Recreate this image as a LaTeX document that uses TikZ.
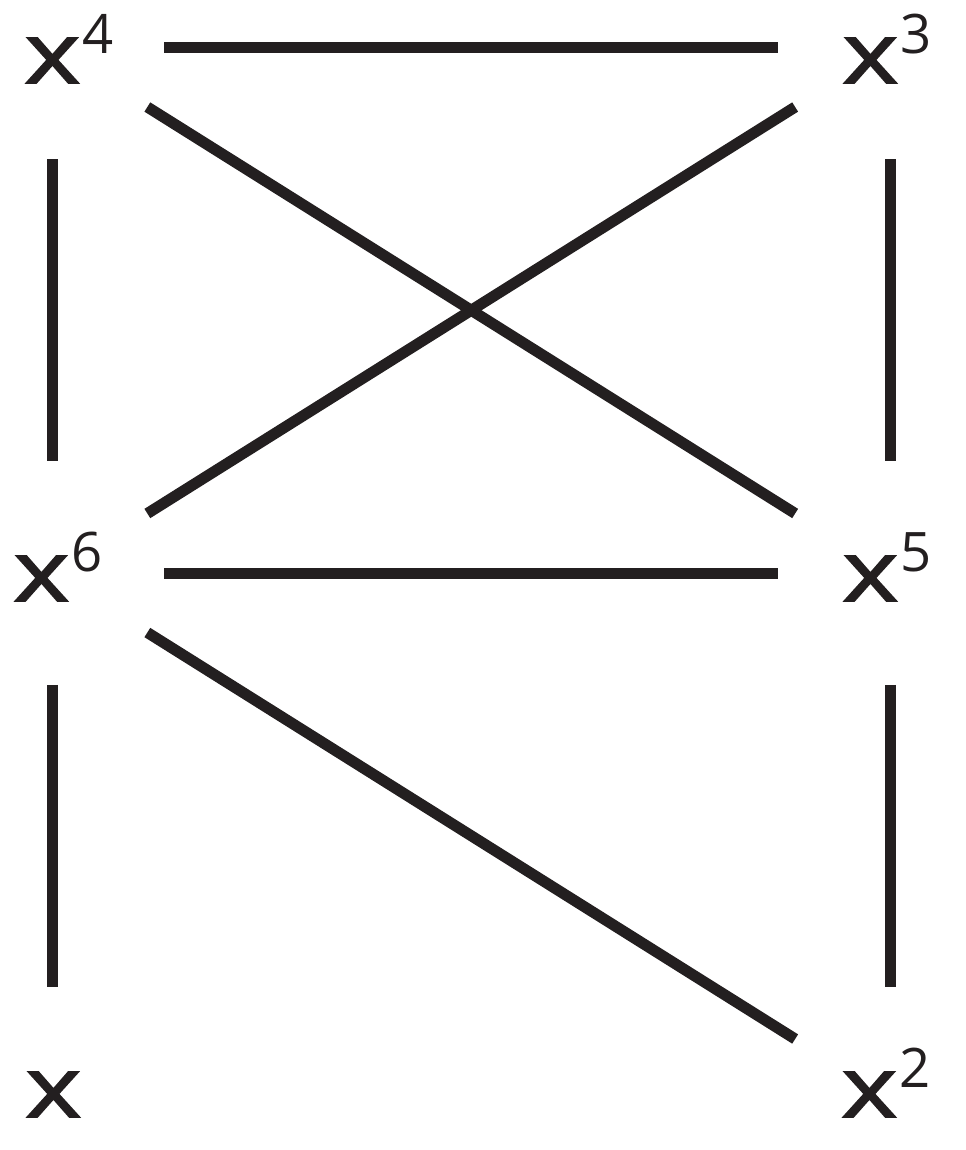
\documentclass[tikz,border=0pt]{standalone}
\usepackage{fontspec}
\setmainfont{Open Sans}
\newfontfamily\xfont[FakeStretch=1.27,FakeBold=2]{Open Sans}
\newcommand{\xpow}[1]{{\xfont x}\kern1pt\raisebox{0.6cm}{\fontsize{31}{32}\selectfont #1}}

\begin{document}
\begin{tikzpicture}[x=0.02cm,y=-0.02cm]
\definecolor{ink}{HTML}{231F20}
\tikzset{lbl/.style={inner sep=0pt,anchor=base west,text=ink,font=\fontsize{48}{50}\selectfont},
  edge/.style={draw=ink,line width=0.22cm,shorten <=2.24cm,shorten >=2.24cm}}
\useasboundingbox (0,0) rectangle (966,1150);
% grid points, one per power of x
\coordinate (v4) at (52.5,47.5);
\coordinate (v3) at (890,47.5);
\coordinate (v6) at (52.5,573);
\coordinate (v5) at (890,573);
\coordinate (v1) at (52.5,1098.5);
\coordinate (v2) at (890,1098.5);
% labels
\node[lbl] (x4) at (24,83) {\xpow{4}};
\node[lbl] (x3) at (842,83) {\xpow{3}};
\node[lbl] (x6) at (13,601) {\xpow{6}};
\node[lbl] (x5) at (842,601) {\xpow{5}};
\node[lbl] (x1) at (25,1117) {\xfont x};
\node[lbl] (x2) at (841,1117) {\xpow{2}};
% edges
\foreach \a/\b in {v4/v3,v4/v6,v3/v5,v4/v5,v3/v6,v6/v5,v6/v1,v5/v2,v6/v2}
  \draw[edge] (\a) -- (\b);
\end{tikzpicture}
\end{document}
